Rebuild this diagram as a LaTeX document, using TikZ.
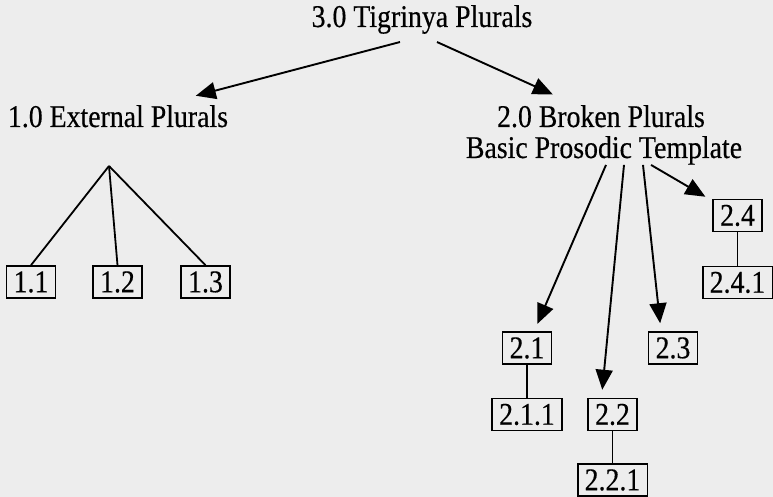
\documentclass[tikz,border=0pt]{standalone}
\usepackage{fontspec}
\setmainfont{Liberation Serif}[FakeStretch=0.88, FakeBold=0.4]
\usetikzlibrary{arrows.meta}
\definecolor{paper}{gray}{0.93}
\begin{document}
\begin{tikzpicture}[x=1pt, y=1pt,
  font=\fontsize{31.6}{36}\selectfont,
  lbl/.style={inner sep=3pt},
  numbox/.style={draw, line width=1.6pt, inner xsep=7pt, minimum height=32pt},
  arr/.style={line width=1.9pt, -{Triangle[length=20pt,width=17pt]}, shorten >=8pt},
  lnk/.style={line width=1.8pt}]
\fill[paper] (0,0) rectangle (773,497);
\useasboundingbox (0,0) rectangle (773,497);
\node[lbl, anchor=base] (top) at (422,470) {3.0 Tigrinya Plurals};
\node[lbl, anchor=base] (ext) at (118,370) {1.0 External Plurals};
\node[lbl, anchor=base] (brk) at (601,370) {2.0 Broken Plurals};
\node[lbl, anchor=base] (bpt) at (604,339) {Basic Prosodic Template};
\coordinate (apex) at (109,331);
\node[numbox] (b11) at (31,215) {1.1};
\node[numbox] (b12) at (117.5,215) {1.2};
\node[numbox] (b13) at (205.5,215) {1.3};
\node[numbox] (b21) at (527,149) {2.1};
\node[numbox] (b23) at (673,149) {2.3};
\node[numbox] (b211) at (527,82.5) {2.1.1};
\node[numbox] (b22) at (612.5,82.5) {2.2};
\node[numbox] (b221) at (612.5,17) {2.2.1};
\node[numbox] (b24) at (737.5,281.5) {2.4};
\node[numbox] (b241) at (737.5,214.5) {2.4.1};
\draw[arr, shorten >=24pt] ([xshift=-22pt,yshift=-5pt]top.south) -- (ext);
\draw[arr, shorten >=18pt] ([xshift=15pt,yshift=-5pt]top.south) -- (brk);
\draw[arr] ([xshift=2pt,yshift=3pt]bpt.south) -- (b21);
\draw[arr] ([xshift=20pt,yshift=3pt]bpt.south) -- ([xshift=-11pt]b22.north);
\draw[arr] ([xshift=39pt,yshift=3pt]bpt.south) -- ([xshift=-12pt]b23.north);
\draw[arr] ([xshift=47pt,yshift=3pt]bpt.south) -- (b24);
\draw[lnk] (apex) -- (b11.north);
\draw[lnk] (apex) -- (b12.north);
\draw[lnk] (apex) -- (b13.north);
\draw[lnk] (b21) -- (b211);
\draw[lnk] (b22) -- (b221);
\draw[lnk] (b24) -- (b241);
\end{tikzpicture}
\end{document}
